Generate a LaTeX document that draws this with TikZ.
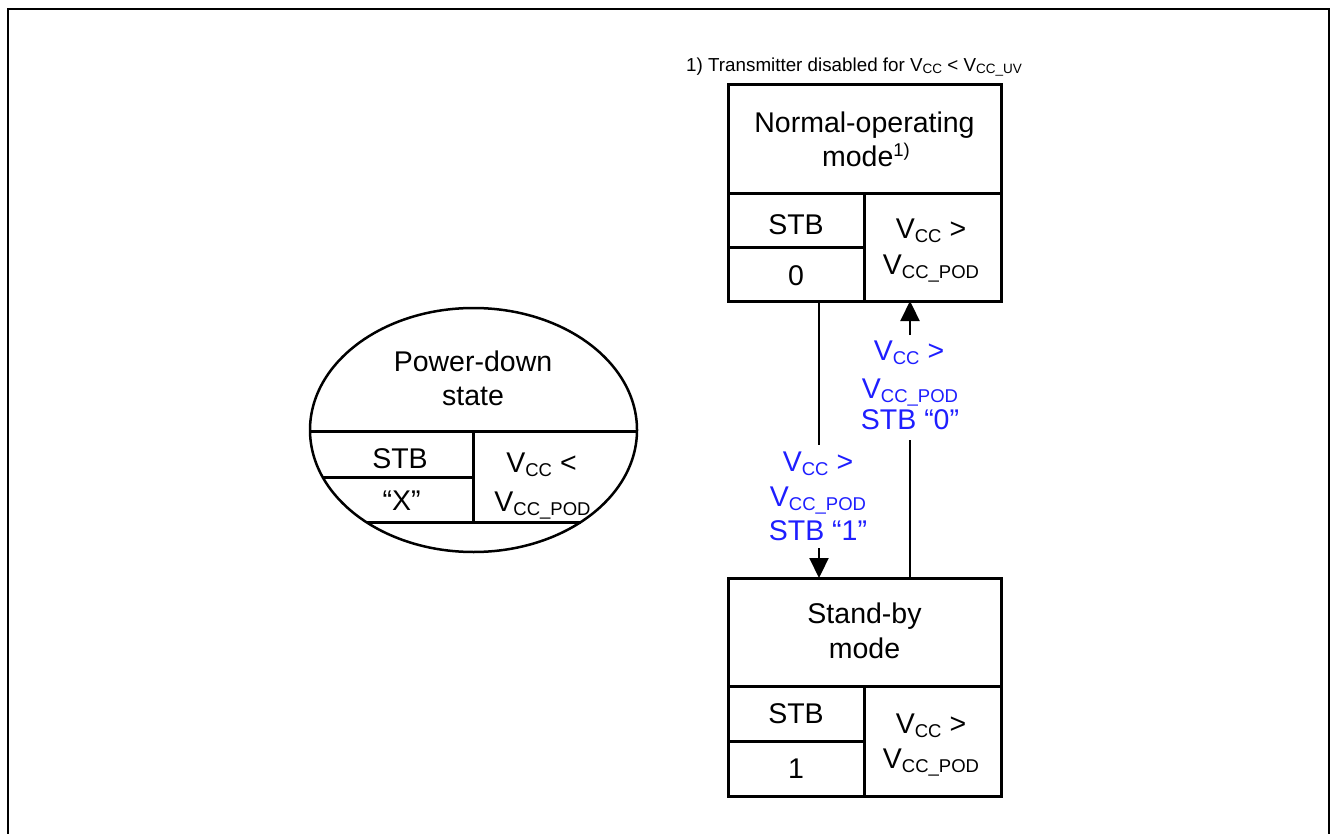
\documentclass[tikz,border=0pt]{standalone}
\usepackage{fontspec}
\setmainfont{Liberation Sans}
\usetikzlibrary{arrows.meta,shapes.geometric}
\definecolor{lblue}{RGB}{30,30,255}
\newcommand{\sbs}[1]{\raisebox{-4pt}{\fontsize{18.5}{18.5}\selectfont #1}}
\newcommand{\sps}[1]{\raisebox{10pt}{\fontsize{18.5}{18.5}\selectfont #1}}
\newcommand{\smsbs}[1]{\raisebox{-2pt}{\fontsize{13.5}{13.5}\selectfont #1}}
\tikzset{
  txt/.style={anchor=base, inner sep=0pt, font=\fontsize{28.5}{34}\selectfont},
  btxt/.style={txt, text=lblue},
  statebox/.style={draw, line width=3pt, inner sep=0pt, outer sep=0pt},
  cell/.style={line width=3pt},
  ecell/.style={line width=2.5pt},
  conn/.style={line width=2.2pt},
  connarrow/.style={conn, -{Triangle[length=20pt, width=19pt]}},
}
\begin{document}
\begin{tikzpicture}[x=1pt, y=-1pt]
\useasboundingbox (0,0) rectangle (1332,834);
% frame
\draw[line width=2pt] (7.5,834) -- (7.5,9.5) -- (1329,9.5) -- (1329,834);

% footnote
\node[anchor=base west, inner sep=0pt, font=\fontsize{18.8}{22}\selectfont] (fn) at (686,71.7)
  {1) Transmitter disabled for V\smsbs{CC} < V\smsbs{CC\_UV}};

% Normal-operating mode box
\node[statebox, minimum width=273pt, minimum height=216pt] (nm) at (864.5,193) {};
\draw[cell] (728,194) -- (1001,194);
\draw[cell] (864.3,194) -- (864.3,301);
\draw[cell] (728,247.7) -- (864.3,247.7);
\node[txt] (nm1) at (864.5,133) {Normal-operating};
\node[txt] (nm2) at (866,167) {mode\sps{1)}};
\node[txt] (nm3) at (796,235) {STB};
\node[txt] (nm4) at (796,285) {0};
\node[txt] (nm5) at (931,238.5) {V\sbs{CC} >};
\node[txt] (nm6) at (931,274.5) {V\sbs{CC\_POD}};

% Stand-by mode box
\node[statebox, minimum width=273pt, minimum height=218pt] (sb) at (864.5,687) {};
\draw[cell] (728,686.7) -- (1001,686.7);
\draw[cell] (864.3,686.7) -- (864.3,796);
\draw[cell] (728,741.7) -- (864.3,741.7);
\node[txt] (sb1) at (864.5,623.3) {Stand-by};
\node[txt] (sb2) at (864.5,658.3) {mode};
\node[txt] (sb3) at (796,723) {STB};
\node[txt] (sb4) at (796,778) {1};
\node[txt] (sb5) at (931,733) {V\sbs{CC} >};
\node[txt] (sb6) at (931,768.5) {V\sbs{CC\_POD}};

% Power-down state ellipse
\node[ellipse, draw, line width=2.5pt, minimum width=327pt, minimum height=244pt, inner sep=0pt, outer sep=0pt] (pd) at (473.5,430) {};
\draw[ecell] (pd.west |- 0,431.7) -- (pd.east |- 0,431.7);
\draw[ecell] (473.3,431.7) -- (473.3,522.3);
\draw[ecell] (323,477.7) -- (473.3,477.7);
\draw[ecell] (366.5,522.3) -- (580.5,522.3);
\node[txt] (pd1) at (473,371.7) {Power-down};
\node[txt] (pd2) at (473,405) {state};
\node[txt] (pd3) at (400,468) {STB};
\node[txt] (pd4) at (401.5,510) {“X”};
\node[txt] (pd5) at (541.5,472) {V\sbs{CC} <};
\node[txt] (pd6) at (542.5,511.7) {V\sbs{CC\_POD}};

% transition labels
\node[btxt] (l1a) at (818,471.7) {V\sbs{CC} >};
\node[btxt] (l1b) at (818,506.7) {V\sbs{CC\_POD}};
\node[btxt] (l1c) at (818,540) {STB “1”};
\node[btxt] (l2a) at (909,360.5) {V\sbs{CC} >};
\node[btxt] (l2b) at (910,398.3) {V\sbs{CC\_POD}};
\node[btxt] (l2c) at (910,429.5) {STB “0”};

% connectors
\coordinate (xa) at (819,0);
\coordinate (xb) at (910,0);
\coordinate (a1) at (819,445);
\coordinate (a2) at (819,548);
\coordinate (b1) at (910,440);
\coordinate (b2) at (910,335);
\draw[conn] (nm.south -| xa) -- (a1);
\draw[connarrow] (a2) -- (sb.north -| xa);
\draw[conn] (sb.north -| xb) -- (b1);
\draw[connarrow] (b2) -- (nm.south -| xb);
\end{tikzpicture}
\end{document}
